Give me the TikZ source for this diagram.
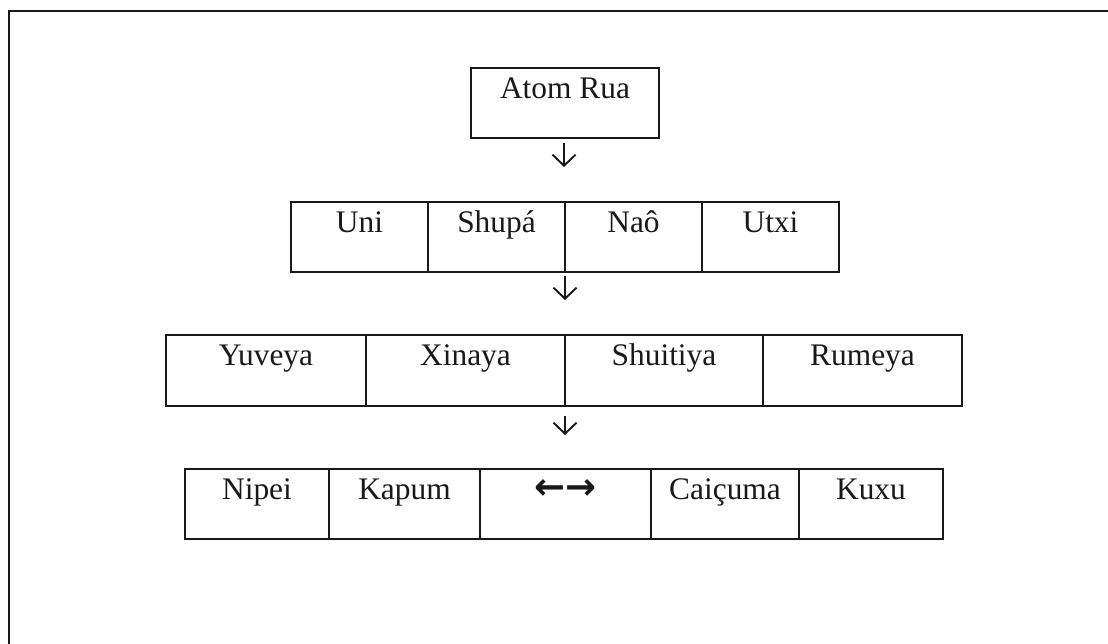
\documentclass[tikz,border=0pt]{standalone}
\usepackage{fontspec}
\setmainfont{Liberation Serif}
\newfontfamily\symfont{DejaVu Sans}
\usetikzlibrary{arrows.meta,calc}
\tikzset{
  frameline/.style={line width=1pt, draw=black!90},
  cellbox/.style={draw=black!90, line width=1pt, rectangle, inner sep=0pt, outer sep=0pt, anchor=north west},
  celltext/.style={anchor=base, inner sep=0pt, font=\fontsize{15.7}{18}\selectfont, text=black!90},
  downarrow/.style={line width=0.95pt, draw=black!90, -{Straight Barb[length=5.5pt,width=11.5pt,line width=0.95pt]}}
}
\newcommand\mkcell[6]{% name, x1, x2, top, height, text
  \node[cellbox, minimum width={(#3-#2)*0.5pt}, minimum height={#5*0.5pt}] (#1) at (#2,#4) {};
  \node[celltext] (#1-t) at ([yshift=-15pt]#1.north) {#6};
}
\begin{document}
\begin{tikzpicture}[x=0.5pt,y=-0.5pt]
\useasboundingbox (0,0) rectangle (1108,643);
\clip (0,0) rectangle (1108,643);
\fill[white] (0,0) rectangle (1108,643);
% outer frame (only its top and left edges fall inside the picture)
\coordinate (fbl) at (9,660);
\coordinate (ftl) at (9,11);
\coordinate (ftr) at (1130,11);
\draw[frameline] (fbl) -- (ftl) -- (ftr);
% row 1
\mkcell{atom}{471}{659}{68}{70}{Atom Rua}
% row 2
\mkcell{uni}{291}{428}{202}{70}{Uni}
\mkcell{shupa}{428}{565}{202}{70}{Shupá}
\mkcell{nao}{565}{702}{202}{70}{Naô}
\mkcell{utxi}{702}{839}{202}{70}{Utxi}
% row 3
\mkcell{yuveya}{166}{366}{335}{71}{Yuveya}
\mkcell{xinaya}{366}{565}{335}{71}{Xinaya}
\mkcell{shuitiya}{565}{763}{335}{71}{Shuitiya}
\mkcell{rumeya}{763}{962}{335}{71}{Rumeya}
% row 4
\mkcell{nipei}{185}{329}{469}{70}{Nipei}
\mkcell{kapum}{329}{480}{469}{70}{Kapum}
\mkcell{mid}{480}{651}{469}{70}{{\symfont\bfseries\fontsize{18.5}{20}\selectfont ←→}}
\mkcell{caicuma}{651}{799}{469}{70}{Caiçuma}
\mkcell{kuxu}{799}{943}{469}{70}{Kuxu}
% arrows between rows
\coordinate (a1s) at (564,143); \coordinate (a1e) at (564,167);
\coordinate (a2s) at (565,276); \coordinate (a2e) at (565,300);
\coordinate (a3s) at (565,416); \coordinate (a3e) at (565,435);
\draw[downarrow] (a1s) -- (a1e);
\draw[downarrow] (a2s) -- (a2e);
\draw[downarrow] (a3s) -- (a3e);
\end{tikzpicture}
\end{document}
